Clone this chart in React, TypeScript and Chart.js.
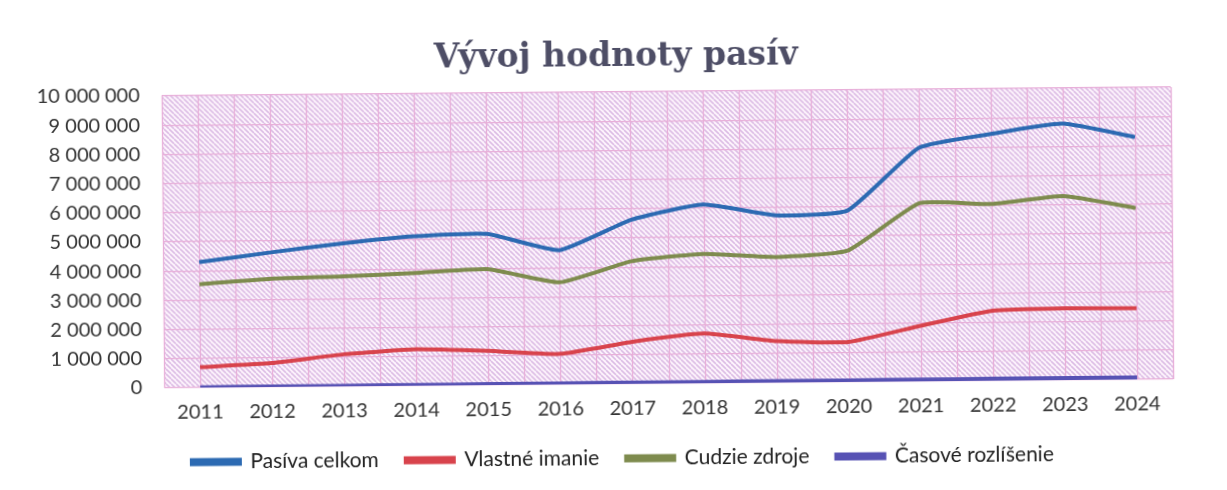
import React, { useEffect, useRef } from "react";
import { Chart, registerables } from "chart.js";
Chart.register(...registerables);

const years = ["2011", "2012", "2013", "2014", "2015", "2016", "2017", "2018", "2019", "2020", "2021", "2022", "2023", "2024"];
const pasivaCelkom = [4300000, 4610000, 4900000, 5120000, 5180000, 4600000, 5620000, 6120000, 5730000, 5870000, 8000000, 8450000, 8780000, 8300000];
const vlastneImanie = [700000, 820000, 1100000, 1250000, 1170000, 1050000, 1440000, 1700000, 1420000, 1370000, 1900000, 2400000, 2460000, 2440000];
const cudzieZdroje = [3540000, 3710000, 3770000, 3860000, 3970000, 3500000, 4200000, 4430000, 4300000, 4500000, 6100000, 6050000, 6300000, 5870000];
const casoveRozlisenie = [12000, 15000, 20000, 26000, 31000, 38000, 42000, 47000, 50000, 54000, 61000, 66000, 70000, 72000];
const yTicks = [0, 1000000, 2000000, 3000000, 4000000, 5000000, 6000000, 7000000, 8000000, 9000000, 10000000];
const titleText = "Vývoj hodnoty pasív";

const fmt = (v: number) => String(v).replace(/\B(?=(\d{3})+(?!\d))/g, " ");

function makePattern(): CanvasPattern | string {
  const s = 5;
  const c = document.createElement("canvas");
  c.width = s;
  c.height = s;
  const g = c.getContext("2d");
  if (!g) return "#f3e0f1";
  g.fillStyle = "#fdf4fc";
  g.fillRect(0, 0, s, s);
  g.strokeStyle = "#dcbde5";
  g.lineWidth = 1.6;
  for (const k of [-s, 0, s]) {
    g.beginPath();
    g.moveTo(k, 0);
    g.lineTo(k + s, s);
    g.stroke();
  }
  const p = g.createPattern(c, "repeat");
  return p || "#f3e0f1";
}

const GRID = "#e8afd9";

const plotBg = {
  id: "plotBg",
  beforeDraw(chart: any) {
    const { ctx, chartArea } = chart;
    if (!chartArea) return;
    ctx.save();
    ctx.fillStyle = makePattern();
    ctx.fillRect(chartArea.left, chartArea.top, chartArea.right - chartArea.left, chartArea.bottom - chartArea.top);
    ctx.restore();
    // title
    ctx.save();
    ctx.font = "bold 33px 'DejaVu Serif'";
    ctx.fillStyle = "#4e4e66";
    ctx.textAlign = "center";
    ctx.textBaseline = "alphabetic";
    ctx.fillText(titleText, chart.width / 2 + 4, 66);
    ctx.restore();
  },
  beforeDatasetsDraw(chart: any) {
    const { ctx, chartArea, scales } = chart;
    const x = scales.x;
    ctx.save();
    ctx.strokeStyle = GRID;
    ctx.lineWidth = 1.3;
    const n = years.length;
    for (let i = 0; i < n; i++) {
      const px = x.getPixelForValue(i);
      const half = i < n - 1 ? (x.getPixelForValue(i + 1) - px) / 2 : (px - x.getPixelForValue(i - 1)) / 2;
      const xs = [px, px - half];
      if (i === n - 1) xs.push(px + half);
      for (const xx of xs) {
        ctx.beginPath();
        ctx.moveTo(Math.round(xx) + 0.5, chartArea.top);
        ctx.lineTo(Math.round(xx) + 0.5, chartArea.bottom);
        ctx.stroke();
      }
    }
    ctx.restore();
  },
};

export default function App() {
  const ref = useRef<HTMLCanvasElement | null>(null);
  useEffect(() => {
    if (!ref.current) return;
    const mk = (label: string, data: number[], color: string) => ({
      label,
      data,
      borderColor: color,
      backgroundColor: color,
      borderWidth: 4,
      pointRadius: 0,
      tension: 0.15,
      fill: false,
    });
    const chart = new Chart(ref.current, {
      type: "line",
      data: {
        labels: years,
        datasets: [
          mk("Pasíva celkom", pasivaCelkom, "#2c6ab2"),
          mk("Vlastné imanie", vlastneImanie, "#d8434c"),
          mk("Cudzie zdroje", cudzieZdroje, "#7e8b4e"),
          mk("Časové rozlíšenie", casoveRozlisenie, "#5752b4"),
        ],
      },
      options: {
        animation: false,
        responsive: true,
        maintainAspectRatio: false,
        layout: { padding: { left: 30, right: 55, top: 92, bottom: 11 } },
        plugins: {
          title: { display: false },
          legend: {
            position: "bottom",
            fullSize: false,
            align: "start",
            labels: {
              boxWidth: 48,
              boxHeight: 4,
              padding: 27,
              color: "#222",
              font: { family: "Lato", size: 21 },
            },
          },
          tooltip: { enabled: false },
        },
        scales: {
          x: {
            offset: true,
            grid: { display: false, drawTicks: false },
            border: { display: false },
            ticks: { color: "#333", font: { family: "Lato", size: 20 }, padding: 13, maxRotation: 0 },
            afterFit: (axis: any) => {
              axis.height = 37;
            },
          },
          y: {
            min: 0,
            max: 10000000,
            afterBuildTicks: (axis: any) => {
              axis.ticks = yTicks.map((v) => ({ value: v }));
            },
            afterFit: (axis: any) => {
              axis.width = 133;
            },
            grid: { color: GRID, lineWidth: 1.3, drawTicks: false },
            border: { display: false },
            ticks: {
              color: "#333",
              font: { family: "Lato", size: 20 },
              padding: 22,
              callback: (v: any) => fmt(Number(v)),
            },
          },
        },
      },
      plugins: [plotBg],
    } as any);
    return () => chart.destroy();
  }, []);
  return (
    <div style={{ position: "fixed", left: 0, top: 0, width: 1227, height: 490, background: "#fff", transform: "rotate(-0.5deg)" }}>
      <canvas ref={ref} />
    </div>
  );
}
